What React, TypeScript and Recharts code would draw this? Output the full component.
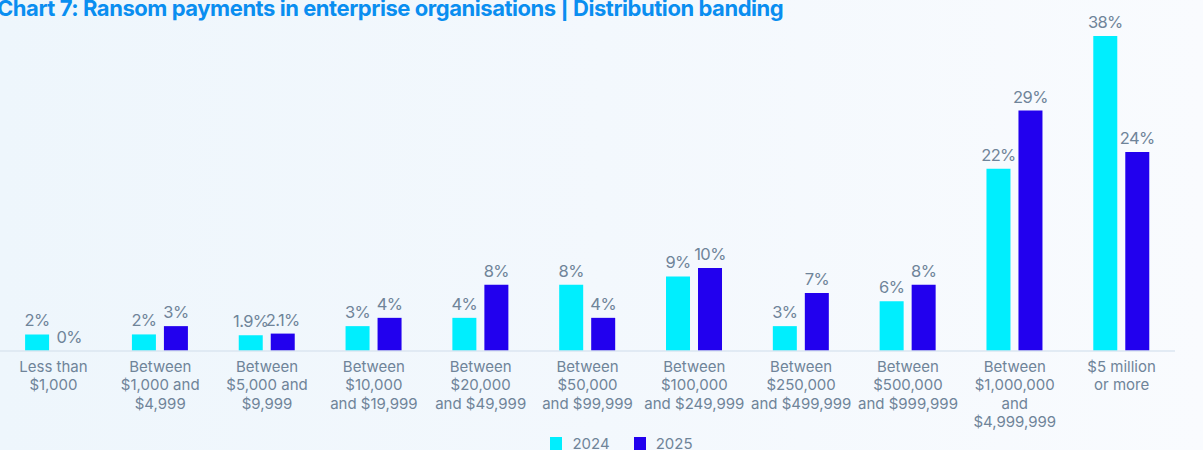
import { BarChart, Bar, XAxis, YAxis, LabelList } from "recharts";

// Payment bands (each entry is one line of the axis label)
const bands: string[][] = [
  ["Less than", "$1,000"],
  ["Between", "$1,000 and", "$4,999"],
  ["Between", "$5,000 and", "$9,999"],
  ["Between", "$10,000", "and $19,999"],
  ["Between", "$20,000", "and $49,999"],
  ["Between", "$50,000", "and $99,999"],
  ["Between", "$100,000", "and $249,999"],
  ["Between", "$250,000", "and $499,999"],
  ["Between", "$500,000", "and $999,999"],
  ["Between", "$1,000,000", "and", "$4,999,999"],
  ["$5 million", "or more"],
];

const values2024 = [2, 2, 1.9, 3, 4, 8, 9, 3, 6, 22, 38];
const values2025 = [0, 3, 2.1, 4, 8, 4, 10, 7, 8, 29, 24];

const seriesNames = ["2024", "2025"];
const seriesColors = ["#00EEFE", "#2200EE"];

const chartData = bands.map((lines, i) => ({
  name: lines.join(" "),
  y2024: values2024[i],
  y2025: values2025[i],
}));

const TEXT_GREY = "#6f8499";
const FONT = "Inter, sans-serif";

function BandTick({ x, y, payload, index }: any) {
  const lines = bands[index] ?? [payload.value];
  return (
    <text
      x={x}
      y={y + 19}
      textAnchor="middle"
      fill={TEXT_GREY}
      fontSize={15}
      fontFamily={FONT}
    >
      {lines.map((line, i) => (
        <tspan key={i} x={x} dy={i === 0 ? 0 : 18.3}>
          {line}
        </tspan>
      ))}
    </text>
  );
}

function ChartLegend() {
  return (
    <div
      style={{
        position: "absolute",
        left: 0,
        top: 435,
        width: 1203,
        display: "flex",
        justifyContent: "center",
        alignItems: "center",
        height: 16,
        fontFamily: FONT,
        fontSize: 15,
        color: TEXT_GREY,
        paddingLeft: 40,
        boxSizing: "border-box",
      }}
    >
      {seriesNames.map((name, i) => (
        <div
          key={name}
          style={{ display: "flex", alignItems: "center", marginRight: i === 0 ? 24 : 0 }}
        >
          <span
            style={{
              width: 12,
              height: 13,
              background: seriesColors[i],
              marginRight: 10,
              display: "inline-block",
            }}
          />
          <span>{name}</span>
        </div>
      ))}
    </div>
  );
}

const valueFormat = (v: any) => `${v}%`;

// keep a zero-height bar so its "0%" label is still drawn
const keepZero = (v: any) => (v === 0 ? 0.01 : 0);

const labelStyle = {
  position: "top" as const,
  offset: 8,
  formatter: valueFormat,
  fill: TEXT_GREY,
  fontSize: 16.5,
  fontFamily: FONT,
  letterSpacing: -0.6,
};

export default function App() {
  return (
    <div
      style={{
        position: "fixed",
        left: 0,
        top: 0,
        width: 1203,
        height: 450,
        overflow: "hidden",
        background: "linear-gradient(90deg, #eef6fc 0%, #f3f8fd 50%, #f9fbfe 100%)",
      }}
    >
      <div
        style={{
          position: "absolute",
          left: -3,
          top: -5,
          fontFamily: FONT,
          fontWeight: 700,
          fontSize: 22,
          color: "#0a8ef0",
          whiteSpace: "nowrap",
          letterSpacing: -0.45,
        }}
      >
        Chart 7: Ransom payments in enterprise organisations | Distribution banding
      </div>
      <BarChart
        width={1203}
        height={450}
        data={chartData}
        margin={{ top: 36, right: 28, bottom: 69, left: 0 }}
        barCategoryGap="23.5%"
        barGap={8}
      >
        <YAxis hide domain={[0, 38]} />
        <XAxis
          dataKey="name"
          height={30}
          interval={0}
          tickLine={false}
          tickSize={0}
          axisLine={{ stroke: "#dbe6f0", strokeWidth: 1.5 }}
          tick={<BandTick />}
        />
        <Bar
          dataKey="y2024"
          name={seriesNames[0]}
          fill={seriesColors[0]}
          minPointSize={keepZero}
          isAnimationActive={false}
        >
          <LabelList dataKey="y2024" {...labelStyle} />
        </Bar>
        <Bar
          dataKey="y2025"
          name={seriesNames[1]}
          fill={seriesColors[1]}
          minPointSize={keepZero}
          isAnimationActive={false}
        >
          <LabelList dataKey="y2025" {...labelStyle} />
        </Bar>
      </BarChart>
      <ChartLegend />
    </div>
  );
}
